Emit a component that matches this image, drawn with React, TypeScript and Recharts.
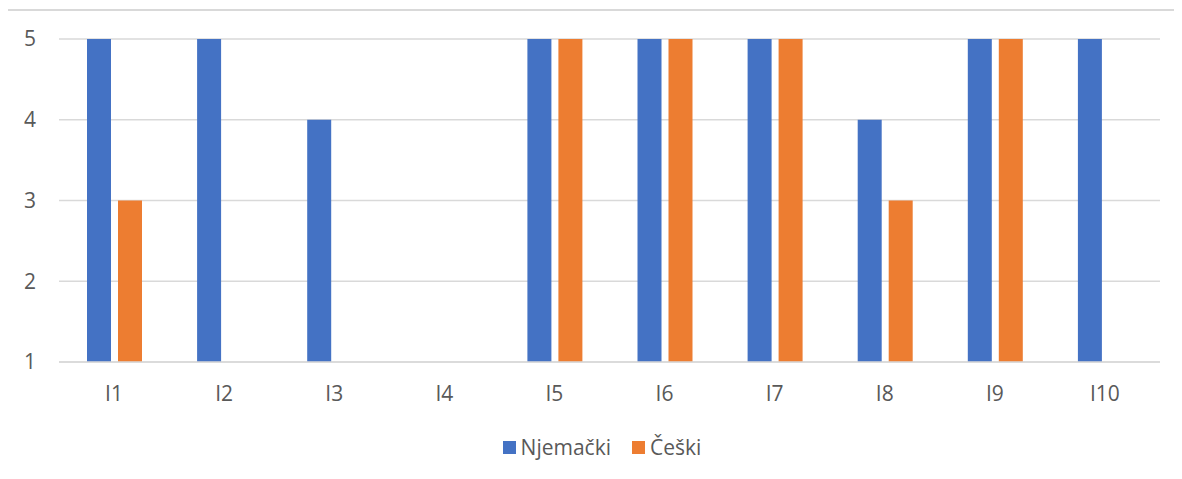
import React from 'react';
import {BarChart, Bar, XAxis, YAxis, CartesianGrid} from 'recharts';

const categories = ['I1', 'I2', 'I3', 'I4', 'I5', 'I6', 'I7', 'I8', 'I9', 'I10'];
const njemacki: (number | null)[] = [5, 5, 4, null, 5, 5, 5, 4, 5, 5];
const ceski: (number | null)[] = [3, null, null, null, 5, 5, 5, 3, 5, null];
const yTicks = [1, 2, 3, 4, 5];

const seriesNames = {njemacki: 'Njemački', ceski: 'Češki'};
const colors = {njemacki: '#4472C4', ceski: '#ED7D31'};

const data = categories.map((name, i) => ({
    name,
    njemacki: njemacki[i],
    ceski: ceski[i],
}));

const FONT = '"Open Sans", sans-serif';
const TEXT = '#595959';
const FS = 21;

const LegendBox = () => (
    <div style={{
        position: 'absolute', left: 11, top: 434, width: 1182, height: 26,
        display: 'flex', justifyContent: 'center', alignItems: 'center',
        fontFamily: FONT, fontSize: FS, color: TEXT,
    }}>
        {(['njemacki', 'ceski'] as const).map((k, i) => (
            <div key={k} style={{display: 'flex', alignItems: 'center', marginLeft: i ? 21 : 0}}>
                <span style={{width: 13, height: 13, background: colors[k], display: 'inline-block', marginRight: 5}}/>
                <span>{seriesNames[k]}</span>
            </div>
        ))}
    </div>
);

const App = () => {
    return (
        <div style={{position: 'relative', width: 1182, height: 479, margin: -8, overflow: 'hidden', background: '#fff'}}>
            <div style={{position: 'absolute', left: 6, top: 9, width: 1300, height: 600, border: '2px solid #d9d9d9'}}/>
            <div style={{position: 'absolute', left: 0, top: 0}}>
                <BarChart
                    width={1182}
                    height={479}
                    data={data}
                    barSize={24}
                    barGap={7}
                    margin={{top: 39, right: 22, bottom: 87, left: 0}}
                >
                    <CartesianGrid vertical={false} stroke="#d9d9d9" strokeWidth={1.5}/>
                    <XAxis
                        dataKey="name"
                        height={30}
                        axisLine={{stroke: '#d9d9d9', strokeWidth: 1.5}}
                        tickLine={false}
                        tickSize={0}
                        tickMargin={24}
                        tick={{fill: TEXT, fontSize: FS, fontFamily: FONT}}
                        interval={0}
                    />
                    <YAxis
                        width={59}
                        domain={[1, 5]}
                        ticks={yTicks}
                        axisLine={false}
                        tickLine={false}
                        tickSize={0}
                        tickMargin={23}
                        tick={{fill: TEXT, fontSize: FS, fontFamily: FONT}}
                    />
                    <Bar dataKey="njemacki" name={seriesNames.njemacki} fill={colors.njemacki} isAnimationActive={false}/>
                    <Bar dataKey="ceski" name={seriesNames.ceski} fill={colors.ceski} isAnimationActive={false}/>
                </BarChart>
            </div>
            <LegendBox/>
        </div>
    );
};

export default App;
